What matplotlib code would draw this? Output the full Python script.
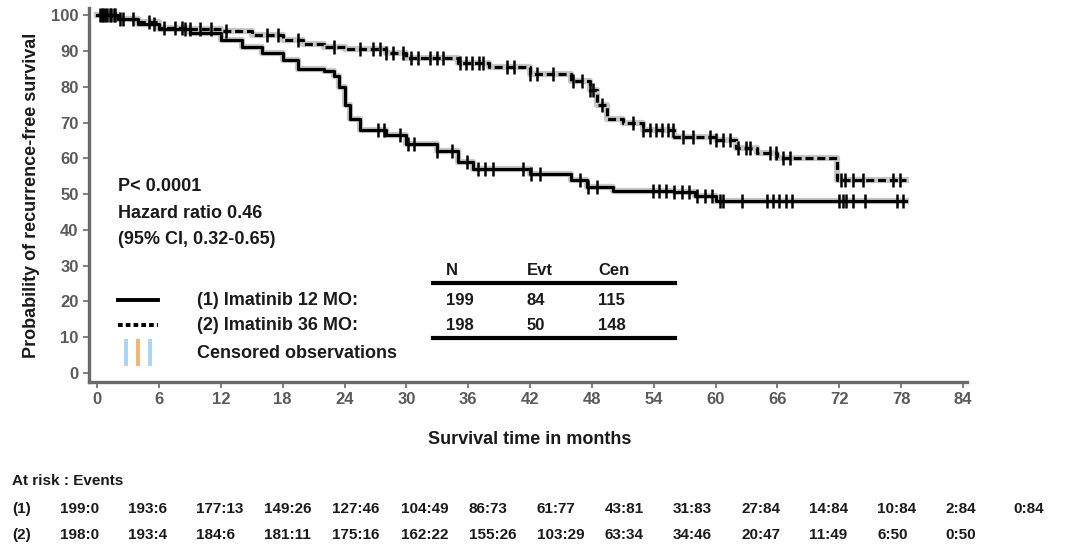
import numpy as np
import matplotlib
matplotlib.use("Agg")
import matplotlib.pyplot as plt

plt.rcParams['font.family'] = ['Liberation Sans', 'DejaVu Sans']

# ---------------------------------------------------------------- data
# (1) Imatinib 12 months - step knots (months, % recurrence-free)
t12 = [0, 2, 4, 6, 9, 12, 14, 16, 18, 19.5, 22, 23, 23.5, 24, 24.5, 25.5,
       28, 30, 33, 35, 36.5, 42, 46, 47.5, 50, 56, 58, 60, 78.5]
s12 = [100, 99, 97.5, 96, 95, 93, 91, 89.5, 87.5, 85, 84.5, 83, 80, 75, 71, 68,
       66.5, 64, 62, 59, 57, 55.5, 54, 52, 51, 50.5, 49.5, 48, 48]
cens12 = [0.5, 0.8, 1.2, 1.6, 2.2, 5.5, 8.5, 27.2, 27.8, 29.4, 30.2, 30.7, 33,
          34.4, 35.9, 36.9, 37.6, 38.4, 41.3, 42.1, 43, 46.8, 47.6, 48.5, 53.9,
          54.5, 55.2, 56, 56.7, 57.4, 58.2, 59, 59.7, 60.4, 60.7, 62.6, 65,
          65.6, 66.2, 66.8, 67.4, 72, 72.4, 72.7, 73.3, 74.5, 77.6, 78.2]

# (2) Imatinib 36 months
t36 = [0, 2, 4, 6, 9, 12, 15, 18, 20, 22, 24, 28, 30, 35, 38, 42, 46, 47.8,
       48.5, 49.5, 51, 53, 56, 60, 62, 64, 66, 71.8, 78.5]
s36 = [100, 99, 98, 96.5, 96, 95.5, 94.5, 93, 92, 91, 90.5, 89.5, 88, 86.5,
       85.5, 83.5, 81.5, 79, 75, 71, 70, 68, 66, 65, 63, 61.5, 60, 54, 54]
cens36 = [0.3, 0.6, 0.9, 1.3, 1.7, 2.5, 3.5, 5, 6.5, 7.5, 8.2, 9, 10, 11,
          12.5, 16.5, 17.5, 19.5, 23, 25.5, 26.8, 27.4, 28, 28.7, 29.7, 30.4,
          31.1, 32.3, 33, 33.6, 35.2, 35.8, 36.4, 37, 37.4, 39.8, 40.4, 42,
          42.7, 44.2, 46.2, 47, 47.8, 48.1, 49, 52, 53, 53.6, 54.2, 54.8, 55.4,
          55.9, 56.8, 57.8, 59.5, 60, 60.7, 61.4, 62.2, 63, 63.3, 65.3, 65.9,
          66.5, 67.2, 72.2, 72.6, 73.3, 74.3, 77.2, 77.9]

xticks = list(range(0, 85, 6))
yticks = list(range(0, 101, 10))

# summary table
groups = ["(1) Imatinib 12 MO:", "(2) Imatinib 36 MO:"]
n_pat = [199, 198]
n_evt = [84, 50]
n_cen = [115, 148]

stats_lines = ["P< 0.0001", "Hazard ratio 0.46", "(95% CI, 0.32-0.65)"]

# at risk : events, every 6 months
risk12 = [199, 193, 177, 149, 127, 104, 86, 61, 43, 31, 27, 14, 10, 2, 0]
evt12 = [0, 6, 13, 26, 46, 49, 73, 77, 81, 83, 84, 84, 84, 84, 84]
risk36 = [198, 193, 184, 181, 175, 162, 155, 103, 63, 34, 20, 11, 6, 0]
evt36 = [0, 4, 6, 11, 16, 22, 26, 29, 34, 46, 47, 49, 50, 50]


def surv_at(t, knots_t, knots_s):
    i = np.searchsorted(knots_t, t, side='right') - 1
    return np.array(knots_s)[i]


# ---------------------------------------------------------------- figure
W, H = 1065, 548
fig = plt.figure(figsize=(W / 100, H / 100), dpi=100)
ax = fig.add_axes([89 / W, 1 - 382 / H, (967 - 89) / W, (382 - 8) / H])

txtc = '#1a1a1a'
grey = '#6a6a6a'

# soft grey halo under the curves, then the curves themselves
for tt, ss in [(t12, s12), (t36, s36)]:
    ax.step(tt, ss, where='post', color='#c8c8c8', lw=4.5, zorder=1)
ax.step(t12, s12, where='post', color='black', lw=2.3, zorder=2)
ax.step(t36, s36, where='post', color='black', lw=2.3, zorder=2,
        linestyle=(0, (2.5, 1.2)))
ax.plot(cens12, surv_at(cens12, t12, s12), ls='none', marker='|', ms=10,
        mew=1.8, color='black', zorder=3)
ax.plot(cens36, surv_at(cens36, t36, s36), ls='none', marker='|', ms=10,
        mew=1.8, color='black', zorder=3)

ax.set_xlim(-0.8, 84.4)
ax.set_ylim(-2.5, 102)
ax.set_xticks(xticks)
ax.set_yticks(yticks)
for s in ['top', 'right']:
    ax.spines[s].set_visible(False)
for s in ['left', 'bottom']:
    ax.spines[s].set_color(grey)
    ax.spines[s].set_linewidth(2.4)
ax.tick_params(colors=grey, labelcolor='#5a5a5a', labelsize=12, length=4, width=1.2)
for lab in ax.get_xticklabels() + ax.get_yticklabels():
    lab.set_fontweight('bold')

ax.set_ylabel('Probability of recurrence-free survival', fontsize=13,
              fontweight='bold', color=txtc, labelpad=8)

# stats text
for k, line in enumerate(stats_lines):
    ax.text(2.0, 52 - k * 7.4, line, fontsize=13, fontweight='bold',
            color=txtc, va='center')

# legend
ly = [20.4, 13.4]
ax.plot([2.0, 5.9], [ly[0], ly[0]], color='black', lw=2.8)
ax.plot([2.0, 5.9], [ly[1], ly[1]], color='black', lw=2.8, linestyle=(0, (1.2, 0.8)))
for xb, cb in zip([2.8, 4.0, 5.1], ['#a8d4f5', '#f2b46e', '#a8d4f5']):
    ax.plot([xb, xb], [2.5, 9.0], color=cb, lw=2.8)
for k, g in enumerate(groups):
    ax.text(9.7, ly[k], g, fontsize=13, fontweight='bold', color=txtc, va='center')
ax.text(9.7, 5.6, 'Censored observations', fontsize=13, fontweight='bold',
        color=txtc, va='center')

# table
cols = [33.8, 41.7, 48.6]
for c, h in zip(cols, ['N', 'Evt', 'Cen']):
    ax.text(c, 28.6, h, fontsize=12, fontweight='bold', color=txtc, va='center')
ax.plot([32.6, 56.1], [25.2, 25.2], color='black', lw=3)
ax.plot([32.6, 56.1], [9.8, 9.8], color='black', lw=3)
for k in range(2):
    for c, v in zip(cols, [n_pat[k], n_evt[k], n_cen[k]]):
        ax.text(c, ly[k], str(v), fontsize=12, fontweight='bold', color=txtc,
                va='center')

fig.text(530 / W, 1 - 440 / H, 'Survival time in months', fontsize=13,
         fontweight='bold', color=txtc, ha='center', va='center')

# at risk table
fig.text(12 / W, 1 - 481 / H, 'At risk : Events', fontsize=11, fontweight='bold',
         color=txtc, va='center')
rows = [(risk12, evt12, 509), (risk36, evt36, 535)]
for k, (r, e, yp) in enumerate(rows):
    fig.text(12 / W, 1 - yp / H, '(%d)' % (k + 1), fontsize=11, fontweight='bold',
             color=txtc, va='center')
    for j in range(len(r)):
        fig.text((60 + j * 68.1) / W, 1 - yp / H, '%d:%d' % (r[j], e[j]),
                 fontsize=11, fontweight='bold', color=txtc, va='center')

fig.savefig('out.png', dpi=100)
